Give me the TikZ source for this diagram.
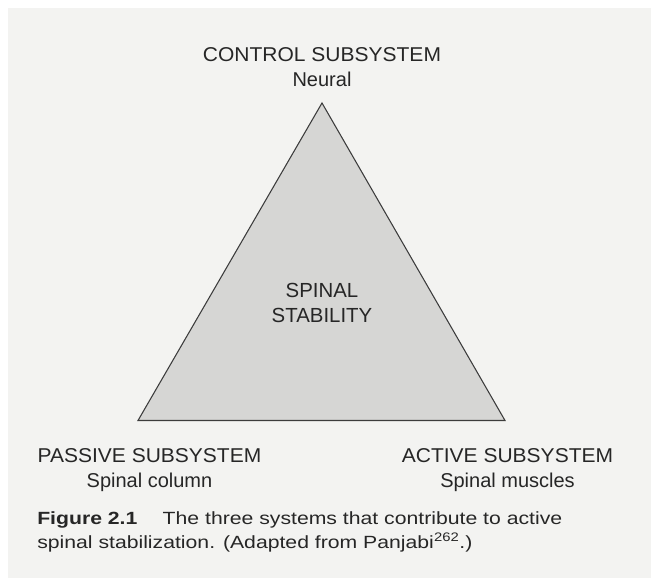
\documentclass[tikz,border=0pt]{standalone}
\usepackage{fontspec}
\setmainfont{Liberation Sans}
\newfontfamily\headfont[FakeStretch=1.05]{Liberation Sans}
\newfontfamily\captionfont[FakeStretch=1.2]{Liberation Sans}
\usetikzlibrary{positioning}

\definecolor{paper}{RGB}{243,243,241}
\definecolor{shade}{RGB}{214,214,212}
\definecolor{ink}{RGB}{38,38,38}
\definecolor{edge}{RGB}{60,60,60}

\begin{document}
\begin{tikzpicture}[
    x=0.75pt, y=-0.75pt,
    node distance=4.5pt,
    headtext/.style={inner sep=0pt, text height=11pt, text depth=3pt, font=\headfont\fontsize{15}{18}\selectfont, text=ink},
    subtext/.style={headtext, font=\normalfont\fontsize{15}{18}\selectfont},
    centertext/.style={inner sep=0pt, align=center, font=\fontsize{15.3}{18.75}\selectfont, text=ink},
    captext/.style={inner sep=0pt, text height=9.5pt, text depth=3pt, font=\captionfont\fontsize{13.25}{17}\selectfont, text=ink},
    tri/.style={fill=shade, draw=edge, line width=0.8pt, line join=miter}
]
    % Page
    \fill[white] (0,0) rectangle (651,578);
    \fill[paper] (8,8) rectangle (651,578);
    \useasboundingbox (0,0) rectangle (651,578);

    % Triangle
    \coordinate (control) at (322,103);
    \coordinate (passive) at (138,420.5);
    \coordinate (active) at (505,420.5);
    \filldraw[tri] (control) -- (passive) -- (active) -- cycle;

    % Corner labels
    \node[headtext, anchor=base] (controlhead) at (322,61) {CONTROL SUBSYSTEM};
    \node[subtext, below=of controlhead] (controlsub) {Neural};
    \node[headtext, anchor=base] (passivehead) at (149.5,462) {PASSIVE SUBSYSTEM};
    \node[subtext, below=of passivehead] (passivesub) {Spinal column};
    \node[headtext, anchor=base] (activehead) at (507.5,462) {ACTIVE SUBSYSTEM};
    \node[subtext, below=of activehead] (activesub) {Spinal muscles};

    % Centre
    \node[centertext] (stability) at (322,303) {SPINAL\\STABILITY};

    % Caption
    \node[captext, anchor=base west] (cap1) at (37,524.5) {\textbf{Figure 2.1}\hspace{19pt}The three systems that contribute to active};
    \node[captext, below right=5pt and 0pt of cap1.south west] (cap2) {spinal stabilization. (Adapted from Panjabi\textsuperscript{262}.)};
\end{tikzpicture}
\end{document}
